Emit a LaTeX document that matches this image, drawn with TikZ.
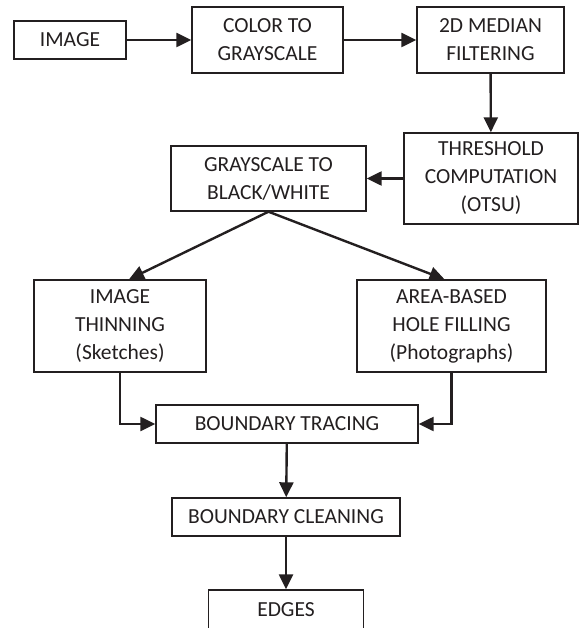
\documentclass[tikz,border=0pt]{standalone}
\usepackage{fontspec}
\setmainfont{Carlito}
\usetikzlibrary{arrows.meta}
\definecolor{ink}{HTML}{231F20}
\tikzset{
  stage/.style={draw=ink, line width=1.4pt, fill=white, align=center, text=ink,
    font=\fontsize{21.5}{28}\selectfont, inner sep=0pt, minimum height=38pt},
  flow/.style={draw=ink, line width=2.4pt, -{Triangle[length=15pt,width=14pt]}}
}
\begin{document}
\begin{tikzpicture}[x=1pt,y=-1pt]
\useasboundingbox (0,0) rectangle (582,628);

% processing stages
\node[stage, minimum width=112pt] (img) at (70,40) {IMAGE};
\node[stage, minimum width=151pt, minimum height=66pt] (gray) at (267.5,40) {COLOR TO\\GRAYSCALE};
\node[stage, minimum width=147pt, minimum height=66pt] (median) at (490.5,40) {2D MEDIAN\\FILTERING};
\node[stage, minimum width=174pt, minimum height=91pt] (otsu) at (491,178.5) {THRESHOLD\\COMPUTATION\\(OTSU)};
\node[stage, minimum width=195pt, minimum height=65pt] (bw) at (268.5,178.5) {GRAYSCALE TO\\BLACK/WHITE};
\node[stage, minimum width=172pt, minimum height=92pt] (thin) at (120,326) {IMAGE\\THINNING\\(Sketches)};
\node[stage, minimum width=189pt, minimum height=92pt] (fill) at (451.5,326) {AREA-BASED\\HOLE FILLING\\(Photographs)};
\node[stage, minimum width=262pt] (trace) at (287,424) {BOUNDARY TRACING};
\node[stage, minimum width=228pt] (clean) at (286,517) {BOUNDARY CLEANING};
\node[stage, minimum width=155pt, minimum height=40pt] (edges) at (286,610) {EDGES};

% connectors
\draw[flow] (img) -- (gray);
\draw[flow] (gray) -- (median);
\draw[flow] (median) -- (otsu);
\draw[flow] (otsu) -- (bw);
\draw[flow] (bw.south) -- ([xshift=9pt]thin.north);
\draw[flow] (bw.south) -- ([xshift=-7pt]fill.north);
\draw[flow] (thin.south) |- (trace.west);
\draw[flow] (fill.south) |- (trace.east);
\draw[flow] (trace) -- (clean);
\draw[flow] (clean) -- (edges);
\end{tikzpicture}
\end{document}
